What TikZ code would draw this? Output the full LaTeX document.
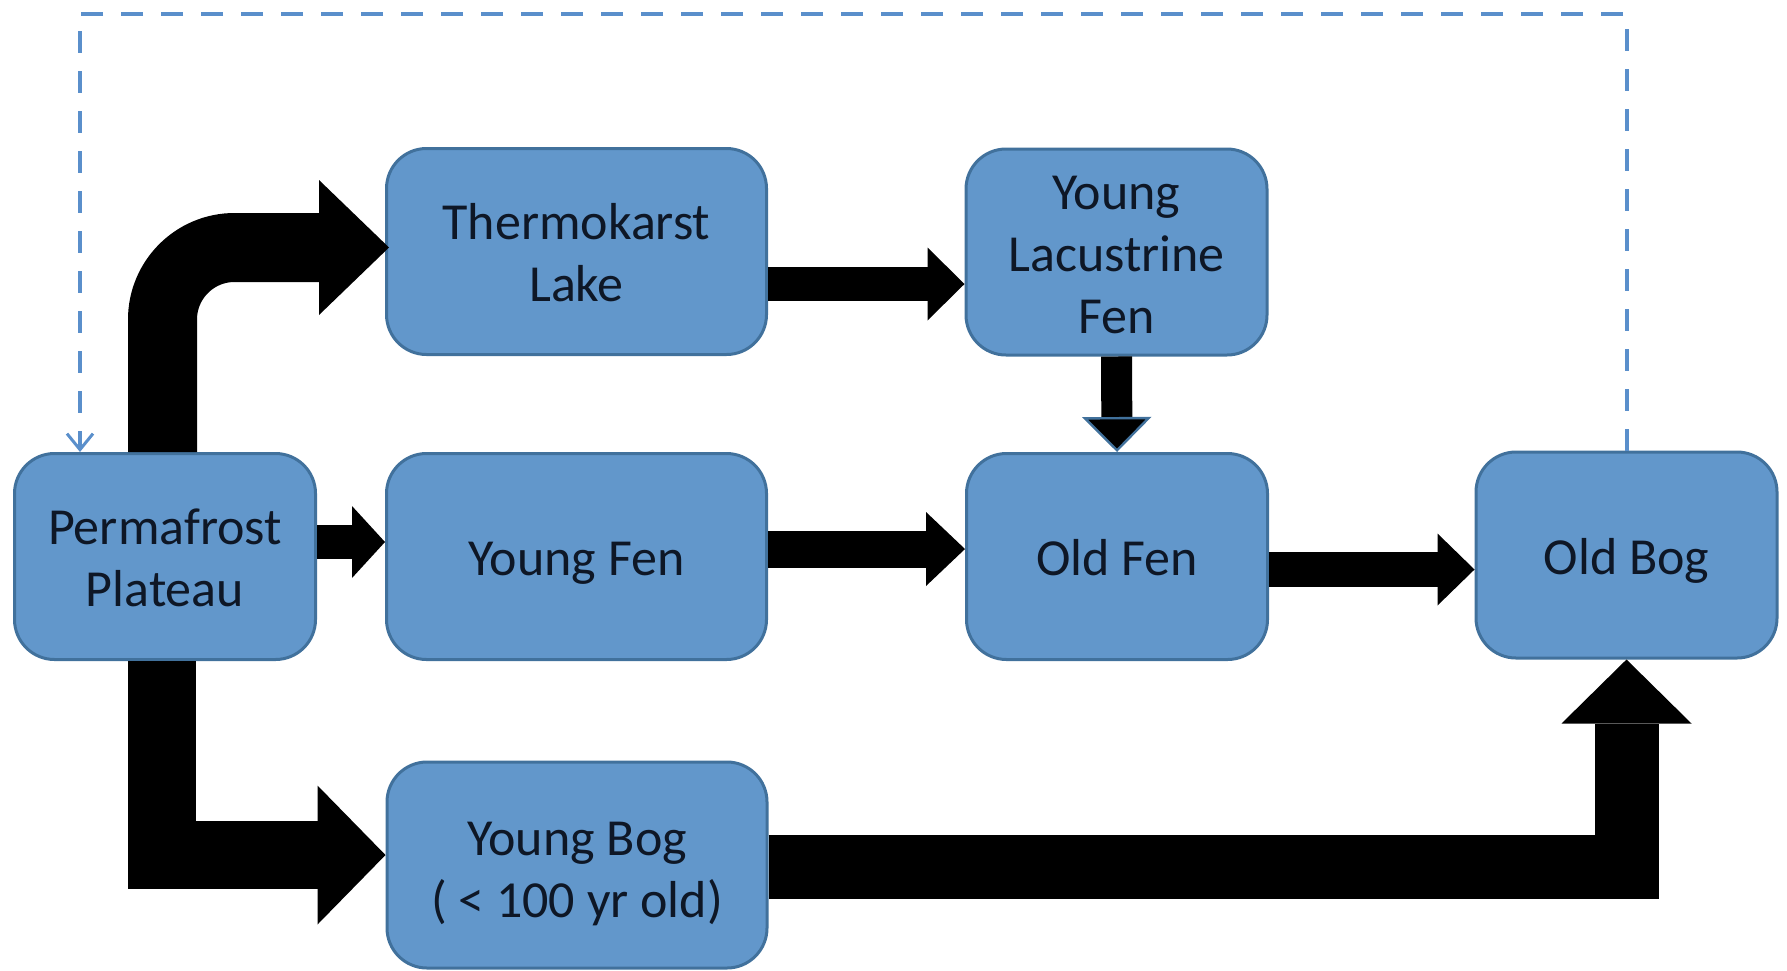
\documentclass[tikz,border=0pt]{standalone}
\usepackage{fontspec}
\setmainfont{Carlito}
\usetikzlibrary{arrows.meta,calc}
\definecolor{boxfill}{HTML}{6297CB}
\definecolor{boxline}{HTML}{41719C}
\definecolor{dashc}{HTML}{5A8FCB}
\definecolor{txt}{HTML}{0E1726}
\newcommand\lstrut{\rule[-9.3pt]{0pt}{31pt}}
\begin{document}
\begin{tikzpicture}[x=0.5pt,y=-0.5pt,
  stage/.style={rectangle, rounded corners=20pt, draw=boxline, line width=1.5pt,
    fill=boxfill, inner sep=0pt, minimum height=103pt},
  narrow/.style={stage, minimum width=150.5pt},
  wide/.style={stage, minimum width=190pt},
  lbl/.style={text=txt, align=center, inner sep=0pt,
    font=\fontsize{26pt}{31pt}\selectfont},
  blk/.style={draw=black, line cap=butt, line join=miter},
  feedback/.style={draw=dashc, line width=2pt, dash pattern=on 11pt off 9pt}
]
\useasboundingbox (0,0) rectangle (1787,970);

% stages
\node[narrow] (PP)  at (165,556.5)  {};
\node[wide]   (TL)  at (576.5,251.5) {};
\node[narrow] (YLF) at (1116.5,252)  {};
\node[wide]   (YF)  at (576.5,556.5) {};
\node[narrow] (OF)  at (1117,556.5)  {};
\node[narrow] (OB)  at (1626.5,555)  {};
\node[wide]   (YB)  at (577,865)     {};

% texts
\node[lbl] (PPt)  at ([yshift=-3.5pt]PP.center)  {\lstrut Permafrost\\\lstrut Plateau};
\node[lbl] (TLt)  at ([yshift=-3.5pt]TL.center)  {\lstrut Thermokarst\\\lstrut Lake};
\node[lbl] (YLFt) at ([yshift=-3.5pt]YLF.center) {\lstrut Young\\\lstrut Lacustrine\\\lstrut Fen};
\node[lbl] (YFt)  at ([yshift=-3.5pt]YF.center)  {\lstrut Young Fen};
\node[lbl] (OFt)  at ([yshift=-3.5pt]OF.center)  {\lstrut Old Fen};
\node[lbl] (OBt)  at ([yshift=-3.5pt]OB.center)  {\lstrut Old Bog};
\node[lbl] (YBt)  at ([yshift=-4.5pt]YB.center)  {\lstrut Young Bog\\\lstrut ( < 100 yr old)};

% helper coordinates
\coordinate (a1) at ([yshift=7.25pt]PP.east);
\coordinate (a2) at ([yshift=3.75pt]YF.east);
\coordinate (a3) at ([yshift=-6.5pt]OF.east);
\coordinate (a4) at ([yshift=-16.25pt]TL.east);
\coordinate (a6) at ([yshift=2pt,xshift=2pt]TL.west);
\coordinate (a6s) at ([xshift=-1.25pt]PP.north);
\coordinate (a7) at ([yshift=5pt]YB.west);
\coordinate (a7s) at ([xshift=-1.5pt]PP.south);
\coordinate (a8) at ([yshift=-1pt]YB.east);
\coordinate (fbk) at (80,14);

% straight block arrows
\draw[blk, line width=17pt, -{Triangle[length=16.5pt,width=36pt,line width=0pt]}]
  (a1) -- (a1 -| YF.west);
\draw[blk, line width=18.5pt, -{Triangle[length=19.5pt,width=37pt,line width=0pt]}]
  (a2) -- (a2 -| OF.west);
\draw[blk, line width=17.5pt, -{Triangle[length=18.5pt,width=36pt,line width=0pt]}]
  (a3) -- (a3 -| OB.west);
\draw[blk, line width=17pt, -{Triangle[length=18.5pt,width=36.5pt,line width=0pt]}]
  (a4) -- (a4 -| YLF.west);
\draw[blk, line width=15.5pt, -{Triangle[length=17.5pt,width=34.5pt,line width=1.2pt,color=boxline,fill=black]}]
  (YLF.south) -- (OF.north);

% bent block arrows
\draw[blk, line width=34.5pt, rounded corners=36pt,
  -{Triangle[length=35pt,width=67.5pt,line width=0pt]}]
  (a6s) -- (a6s |- a6) -- (a6);
\draw[blk, line width=34pt,
  -{Triangle[length=34pt,width=69.5pt,line width=0pt]}]
  (a7s) -- (a7s |- a7) -- (a7);
\draw[blk, line width=32pt,
  -{Triangle[length=32pt,width=65pt,line width=0pt]}]
  (a8) -- (a8 -| OB.south) -- (OB.south);

% feedback dashed arrow
\draw[feedback, -{Straight Barb[length=8pt,width=13pt,line width=1.5pt]}]
  (OB.north) |- (fbk) -- (fbk |- PP.north);
\end{tikzpicture}
\end{document}
